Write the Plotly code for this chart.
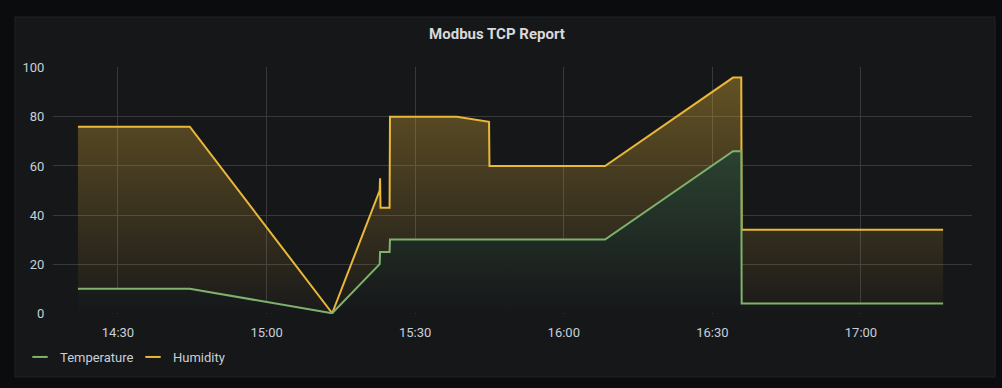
import plotly.graph_objects as go

DAY = "2021-06-01 "
times = ["14:21:55", "14:44:30", "15:13:15", "15:22:50", "15:22:55", "15:23:00",
         "15:24:50", "15:24:55", "15:38:25", "15:44:55", "15:45:00", "16:08:20",
         "16:34:10", "16:35:50", "16:35:55", "17:16:35"]
humidity = [76, 76, 0, 50, 55, 43, 43, 80, 80, 78, 60, 60, 96, 96, 34, 34]
temperature = [10, 10, 0, 20, 25, 25, 25, 30, 30, 30, 30, 30, 66, 66, 4, 4]
x_range = ["14:16:53", "17:22:25"]
x_ticks = ["14:30", "15:00", "15:30", "16:00", "16:30", "17:00"]
y_ticks = [0, 20, 40, 60, 80, 100]

OUTER = "#0b0c0e"
PANEL = "#161719"
GRID = "#37393d"
TXT = "#c7d0d9"
YEL = "#EAB839"
GRN = "#7EB26D"

xs = [DAY + t for t in times]

fig = go.Figure()
fig.add_trace(go.Scatter(
    x=xs, y=humidity, mode="lines", name="Humidity", showlegend=False,
    line=dict(color=YEL, width=2), fill="tozeroy",
    fillgradient=dict(type="vertical", start=0, stop=100,
                      colorscale=[[0, "rgba(234,184,57,0.02)"], [1, "rgba(234,184,57,0.38)"]]),
    hoverinfo="skip"))
fig.add_trace(go.Scatter(
    x=xs, y=temperature, mode="lines", name="Temperature", showlegend=False,
    line=dict(color=GRN, width=2), fill="tozeroy",
    fillgradient=dict(type="vertical", start=0, stop=100,
                      colorscale=[[0, "rgb(22,23,25)"], [1, "rgb(55,88,61)"]]),
    hoverinfo="skip"))
# legend entries
fig.add_trace(go.Scatter(x=[None], y=[None], mode="markers", name="Temperature",
                         marker=dict(symbol="line-ew", size=11, line=dict(color=GRN, width=2))))
fig.add_trace(go.Scatter(x=[None], y=[None], mode="markers", name="Humidity",
                         marker=dict(symbol="line-ew", size=11, line=dict(color=YEL, width=2))))

L, R, T, B = 53, 30, 67, 74
W, H = 1002, 388
pw, ph = W - L - R, H - T - B

def px_x(p):
    return (p - L) / pw

def px_y(p):
    return (H - B - p) / ph

fig.add_shape(type="rect", xref="paper", yref="paper",
              x0=px_x(15), x1=px_x(995), y0=px_y(377), y1=px_y(17),
              fillcolor=PANEL, line=dict(color="#202226", width=1), layer="below")

fig.update_layout(
    width=W, height=H, margin=dict(l=L, r=R, t=T, b=B),
    paper_bgcolor=OUTER, plot_bgcolor="rgba(0,0,0,0)",
    font=dict(family="Roboto, Inter, sans-serif", color=TXT, size=13),
    title=dict(text="<b>Modbus TCP Report</b>", x=497 / W, xref="container", xanchor="center",
               y=1 - 34 / H, yref="container", yanchor="middle",
               font=dict(size=15, color="#d8d9da", family="Roboto, sans-serif")),
    showlegend=True,
    legend=dict(orientation="h", x=px_x(20), xanchor="left", y=px_y(357), yanchor="middle",
                bgcolor="rgba(0,0,0,0)", font=dict(size=13, color=TXT), itemwidth=30,
                entrywidth=68, entrywidthmode="pixels", traceorder="normal"),
    xaxis=dict(type="date", range=[DAY + x_range[0], DAY + x_range[1]],
               tickvals=[DAY + t for t in x_ticks], ticktext=x_ticks,
               showgrid=True, gridcolor=GRID, gridwidth=1, zeroline=False, showline=False,
               ticks="outside", ticklen=6, tickcolor="rgba(0,0,0,0)",
               tickfont=dict(size=13, color=TXT)),
    yaxis=dict(range=[-0.3, 100.3], tickvals=y_ticks, showgrid=True, gridcolor=GRID, gridwidth=1,
               zeroline=False, showline=False, ticks="outside", ticklen=5,
               tickcolor="rgba(0,0,0,0)", tickfont=dict(size=13, color=TXT)),
)

fig.write_html("out.html", config={"displayModeBar": False},
               post_script="document.body.style.margin='0';")
